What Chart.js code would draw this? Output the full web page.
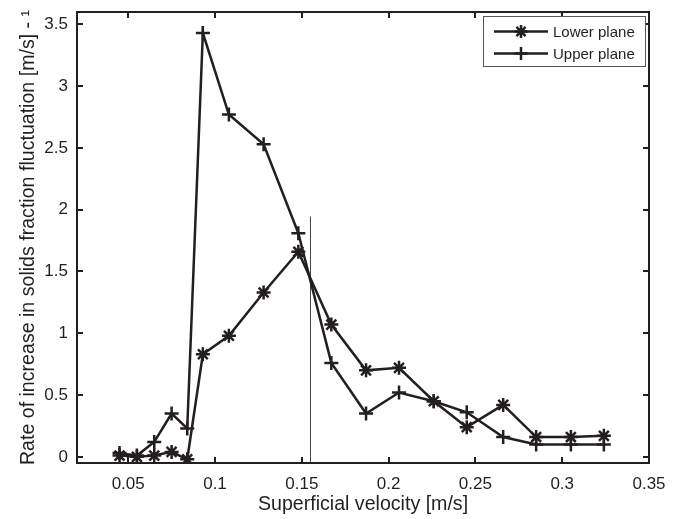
<!DOCTYPE html>
<html>
<head>
<meta charset="utf-8">
<script src="https://cdn.jsdelivr.net/npm/chart.js@4/dist/chart.umd.min.js"></script>
<style>
  html, body { margin: 0; padding: 0; background: #fff; }
  #wrap { width: 680px; height: 519px; }
</style>
</head>
<body>
<div id="wrap"><canvas id="chart" width="680" height="519"></canvas></div>
<script>
// superficial velocity [m/s]
const velocity = [0.045, 0.055, 0.065, 0.075, 0.084, 0.093, 0.108, 0.128, 0.148, 0.167, 0.187, 0.206, 0.226, 0.245, 0.266, 0.285, 0.305, 0.324];
const lowerPlane = [0.01, 0.00, 0.01, 0.04, -0.02, 0.83, 0.98, 1.33, 1.66, 1.07, 0.70, 0.72, 0.45, 0.24, 0.42, 0.16, 0.16, 0.17];
const upperPlane = [0.03, 0.01, 0.12, 0.35, 0.23, 3.43, 2.77, 2.53, 1.81, 0.76, 0.35, 0.52, 0.45, 0.36, 0.16, 0.10, 0.10, 0.10];
const markerLineX = [0.155, 0.155];
const markerLineY = [-0.05, 1.945];
const xTicks = [0.05, 0.1, 0.15, 0.2, 0.25, 0.3, 0.35];
const yTicks = [0, 0.5, 1, 1.5, 2, 2.5, 3, 3.5];
const seriesNames = ['Lower plane', 'Upper plane'];

const ink = '#231f20';
const font = "'Liberation Sans', Arial, sans-serif";

function pts(xs, ys) {
    return xs.map((x, i) => ({ x: x, y: ys[i] }));
}

// inward ticks on all four sides + box
const frame = {
    id: 'frame',
    afterDatasetsDraw(chart) {
        const { ctx, chartArea: a, scales } = chart;
        const len = 6;
        ctx.save();
        ctx.strokeStyle = ink;
        ctx.lineWidth = 2;
        ctx.beginPath();
        xTicks.forEach(v => {
            const px = Math.round(scales.x.getPixelForValue(v));
            if (px < a.left + 1 || px > a.right - 1) return;
            ctx.moveTo(px, a.bottom); ctx.lineTo(px, a.bottom - len);
            ctx.moveTo(px, a.top); ctx.lineTo(px, a.top + len);
        });
        yTicks.forEach(v => {
            const py = Math.round(scales.y.getPixelForValue(v));
            ctx.moveTo(a.left, py); ctx.lineTo(a.left + len, py);
            ctx.moveTo(a.right, py); ctx.lineTo(a.right - len, py);
        });
        ctx.stroke();
        ctx.strokeRect(a.left, a.top, a.right - a.left, a.bottom - a.top);
        ctx.restore();
    }
};

// MATLAB-like legend box with line + marker samples
const legendBox = {
    id: 'legendBox',
    afterDraw(chart) {
        const { ctx } = chart;
        const bx = 483, by = 16, bw = 162, bh = 50;
        ctx.save();
        ctx.fillStyle = '#fff';
        ctx.fillRect(bx, by, bw, bh);
        ctx.strokeStyle = '#555';
        ctx.lineWidth = 1;
        ctx.strokeRect(bx + 0.5, by + 0.5, bw, bh);
        const rows = [31.5, 53.5];
        const styles = ['star', 'cross'];
        rows.forEach((ry, i) => {
            ctx.strokeStyle = ink;
            ctx.lineWidth = 2.5;
            ctx.beginPath();
            ctx.moveTo(494, ry); ctx.lineTo(548, ry);
            ctx.stroke();
            Chart.helpers.drawPoint(ctx, { pointStyle: styles[i], radius: 6.5, rotation: 0, borderWidth: 2.5 }, 521, ry);
            ctx.fillStyle = ink;
            ctx.font = '15px ' + font;
            ctx.textBaseline = 'middle';
            ctx.textAlign = 'left';
            ctx.fillText(seriesNames[i], 553, ry + 1);
        });
        ctx.restore();
    }
};

new Chart(document.getElementById('chart'), {
    type: 'line',
    data: {
        datasets: [{
            label: seriesNames[0],
            data: pts(velocity, lowerPlane),
            borderColor: ink,
            backgroundColor: ink,
            borderWidth: 2.5,
            pointStyle: 'star',
            pointRadius: 7,
            pointBorderWidth: 2.5,
            tension: 0
        }, {
            label: seriesNames[1],
            data: pts(velocity, upperPlane),
            borderColor: ink,
            backgroundColor: ink,
            borderWidth: 2.5,
            pointStyle: 'cross',
            pointRadius: 7,
            pointBorderWidth: 2.5,
            tension: 0
        }, {
            label: 'marker',
            data: pts(markerLineX, markerLineY),
            borderColor: '#444',
            borderWidth: 1,
            pointRadius: 0
        }]
    },
    options: {
        responsive: false,
        animation: false,
        layout: { padding: { top: 12, right: 31, left: 0, bottom: 0 } },
        plugins: {
            legend: { display: false },
            tooltip: { enabled: false }
        },
        scales: {
            x: {
                type: 'linear',
                min: 0.0205,
                max: 0.35,
                afterBuildTicks: s => { s.ticks = xTicks.map(v => ({ value: v })); },
                afterFit: s => { s.height = 56; s.paddingLeft = 0; s.paddingRight = 0; },
                grid: { display: false, drawTicks: false },
                border: { display: false },
                ticks: {
                    color: ink,
                    padding: 11,
                    font: { family: font, size: 17 },
                    callback: v => String(v)
                },
                title: {
                    display: true,
                    text: 'Superficial velocity [m/s]',
                    color: ink,
                    font: { family: font, size: 19.6 },
                    padding: { top: 0, bottom: 3 }
                }
            },
            y: {
                min: -0.05,
                max: 3.6,
                afterBuildTicks: s => { s.ticks = yTicks.map(v => ({ value: v })); },
                afterFit: s => { s.width = 77; s.paddingTop = 0; s.paddingBottom = 0; },
                grid: { display: false, drawTicks: false },
                border: { display: false },
                ticks: {
                    color: ink,
                    padding: 9,
                    font: { family: font, size: 17 },
                    callback: v => String(v)
                },
                title: {
                    display: true,
                    text: 'Rate of increase in solids fraction fluctuation [m/s] - \u00B9',
                    color: ink,
                    font: { family: font, size: 19.6 },
                    padding: { top: 17, bottom: 0 }
                }
            }
        }
    },
    plugins: [frame, legendBox]
});
</script>
</body>
</html>
